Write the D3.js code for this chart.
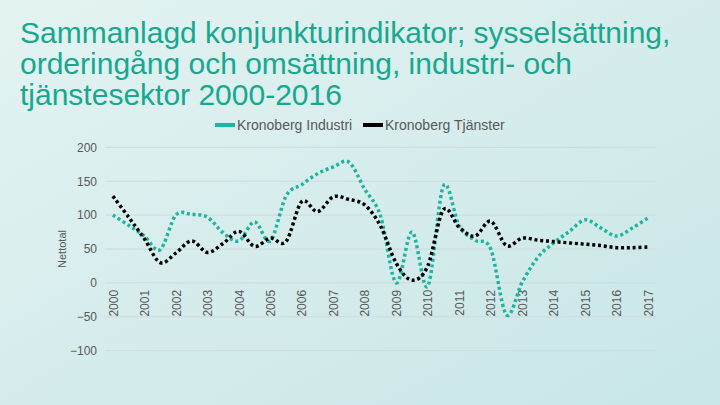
<!DOCTYPE html>
<html>
<head>
<meta charset="utf-8">
<script src="https://cdn.jsdelivr.net/npm/d3@7"></script>
<style>
  html, body { margin: 0; padding: 0; }
  body { width: 720px; height: 405px; overflow: hidden; }
</style>
</head>
<body>
<svg id="chart" width="720" height="405"></svg>
<script>
// ---- data ----
const titleLines = [
  "Sammanlagd konjunkturindikator; sysselsättning,",
  "orderingång och omsättning, industri- och",
  "tjänstesektor 2000-2016"
];
const categories = [
  "2000:1","2000:2","2001:1","2001:2","2002:1","2002:2","2003:1","2003:2",
  "2004:1","2004:2","2005:1","2005:2","2006:1","2006:2","2007:1","2007:2",
  "2008:1","2008:2","2009:1","2009:2","2010:1","2010:2","2011:1","2011:2",
  "2012:1","2012:2","2013:1","2013:2","2014:1","2014:2","2015:1","2015:2",
  "2016:1","2016:2","2017:1"
];
const industri = [100, 85, 69, 49, 100, 101, 97, 74, 62, 90, 62, 128, 145, 161, 171, 178,
  138, 99, 0, 75, -5, 143, 84, 63, 50, -47, 1, 38, 59, 76, 93, 81, 69, 81, 96];
const tjanster = [128, 97, 65, 30, 44, 62, 45, 58, 76, 54, 66, 61, 120, 105, 127, 123,
  115, 84, 29, 4, 25, 108, 82, 69, 91, 55, 66, 63, 61, 59, 57, 55, 52, 52, 53];
const yTicks = [-100, -50, 0, 50, 100, 150, 200];
const seriesNames = ["Kronoberg Industri", "Kronoberg Tjänster"];
const yTitle = "Nettotal";

// ---- styles ----
const teal = "#1fb49f";
const black = "#000000";
const gray = "#595959";
const font = "'Liberation Sans', Arial, sans-serif";

const svg = d3.select("#chart");

// background gradient
const defs = svg.append("defs");
const grad = defs.append("linearGradient").attr("id", "bg")
  .attr("x1", "0").attr("y1", "0").attr("x2", "1").attr("y2", "1");
grad.append("stop").attr("offset", "0").attr("stop-color", "#e3f3f2");
grad.append("stop").attr("offset", "1").attr("stop-color", "#c8e6e6");
svg.append("rect").attr("width", 720).attr("height", 405).attr("fill", "url(#bg)");

// title
const title = svg.append("text")
  .attr("x", 20).attr("y", 43)
  .attr("fill", "#17a88e")
  .style("font-family", font)
  .style("font-size", "30px");
titleLines.forEach((t, i) => {
  title.append("tspan").attr("x", 20).attr("dy", i === 0 ? 0 : 31).text(t);
});

// scales
const x = d3.scalePoint().domain(categories).range([105, 656]).padding(0.5);
const y = d3.scaleLinear().domain([-100, 200]).range([350.7, 147.3]);

// gridlines
svg.append("g").selectAll("line").data(yTicks).join("line")
  .attr("x1", 105).attr("x2", 656)
  .attr("y1", d => y(d)).attr("y2", d => y(d))
  .attr("stroke", "#cfdada").attr("stroke-width", 1);

// y axis labels
const yAxis = d3.axisLeft(y).tickValues(yTicks).tickSize(0).tickPadding(0);
const gy = svg.append("g").attr("transform", "translate(97,0)").call(yAxis);
gy.select(".domain").remove();
gy.selectAll("text")
  .attr("fill", gray)
  .style("font-family", font)
  .style("font-size", "12px");

// y title
svg.append("text")
  .attr("transform", `translate(66,${y(50)}) rotate(-90)`)
  .attr("text-anchor", "middle")
  .attr("fill", gray)
  .style("font-family", font)
  .style("font-size", "11px")
  .text(yTitle);

// x axis labels (at zero line)
const xAxis = d3.axisBottom(x)
  .tickValues(categories.filter(c => c.endsWith(":1")))
  .tickFormat(c => c.split(":")[0])
  .tickSize(0).tickPadding(0);
const gx = svg.append("g").attr("transform", `translate(0,${y(0)})`).call(xAxis);
gx.select(".domain").remove();
gx.selectAll("text")
  .attr("transform", "translate(0,7) rotate(-90)")
  .attr("text-anchor", "end")
  .attr("dy", "0.35em")
  .attr("x", 0).attr("y", 0)
  .attr("fill", gray)
  .style("font-family", font)
  .style("font-size", "12px");

// lines
const line = d3.line()
  .x((d, i) => x(categories[i]))
  .y(d => y(d))
  .curve(d3.curveCardinal.tension(0));

svg.append("path").datum(industri)
  .attr("d", line).attr("fill", "none")
  .attr("stroke", teal).attr("stroke-width", 3.5)
  .attr("stroke-dasharray", "3 2.8");
svg.append("path").datum(tjanster)
  .attr("d", line).attr("fill", "none")
  .attr("stroke", black).attr("stroke-width", 3.5)
  .attr("stroke-dasharray", "3 2.8");

// legend
const legend = svg.append("g");
const legItems = [
  { name: seriesNames[0], color: teal, x: 215 },
  { name: seriesNames[1], color: black, x: 363 }
];
legItems.forEach(it => {
  legend.append("line")
    .attr("x1", it.x).attr("x2", it.x + 20)
    .attr("y1", 125).attr("y2", 125)
    .attr("stroke", it.color).attr("stroke-width", 4);
  legend.append("text")
    .attr("x", it.x + 22).attr("y", 125).attr("dy", "0.35em")
    .attr("fill", gray)
    .style("font-family", font)
    .style("font-size", "14px")
    .text(it.name);
});
</script>
</body>
</html>
